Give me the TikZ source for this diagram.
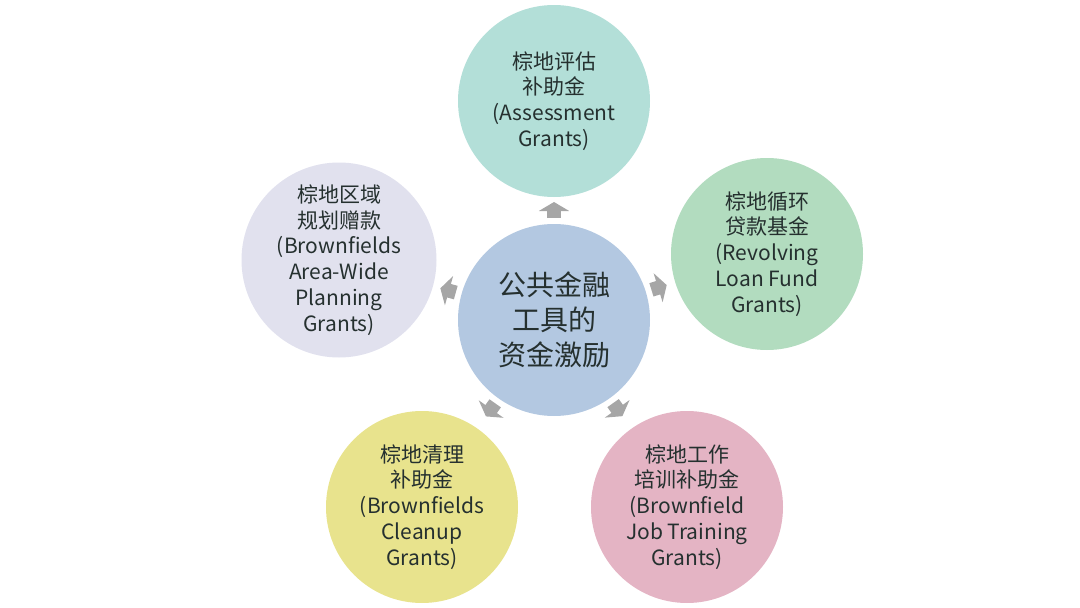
\documentclass[tikz,border=0pt]{standalone}
\usepackage{fontspec}
\setmainfont{Noto Sans CJK SC}
\usetikzlibrary{calc, arrows.meta}
\definecolor{hubblue}{HTML}{B3C8E1}
\definecolor{assessteal}{HTML}{B3DFD8}
\definecolor{loangreen}{HTML}{B2DCBF}
\definecolor{planlilac}{HTML}{E1E1EE}
\definecolor{cleanyellow}{HTML}{E8E38D}
\definecolor{jobpink}{HTML}{E4B4C4}
\definecolor{inkdark}{HTML}{25302F}
\definecolor{arrowgray}{HTML}{A6A6A6}

\begin{document}
\begin{tikzpicture}[x=1pt, y=-1pt,
    grant/.style={circle, minimum size=192pt, inner sep=0pt, align=center,
        text=inkdark, font=\fontsize{21}{25.8}\selectfont},
    flow/.style={line width=14pt, draw=arrowgray,
        -{Triangle[width=30pt, length=9pt]}}]
    \useasboundingbox (0,0) rectangle (1080,608);

    % Centre circle
    \node[grant, fill=hubblue, font=\fontsize{28}{35}\selectfont] (hub) at (554,320)
        {公共金融\\工具的\\资金激励};

    % The five grants round it
    \node[grant, fill=assessteal] (assess) at (554,101)
        {棕地评估\\补助金\\(Assessment\\Grants)};
    \node[grant, fill=planlilac] (planning) at (339,260)
        {棕地区域\\规划赠款\\(Brownfields\\Area-Wide\\Planning\\Grants)};
    \node[grant, fill=loangreen] (revolving) at (767,254)
        {棕地循环\\贷款基金\\(Revolving\\Loan Fund\\Grants)};
    \node[grant, fill=cleanyellow] (cleanup) at (422,507)
        {棕地清理\\补助金\\(Brownfields\\Cleanup\\Grants)};
    \node[grant, fill=jobpink] (training) at (687,507)
        {棕地工作\\培训补助金\\(Brownfield\\Job Training\\Grants)};

    % Arrows out of the centre
    \foreach \g in {assess, planning, revolving, cleanup, training}
        \draw[flow] ($(hub)!102pt!(\g)$) -- ($(hub)!118pt!(\g)$);
\end{tikzpicture}
\end{document}
